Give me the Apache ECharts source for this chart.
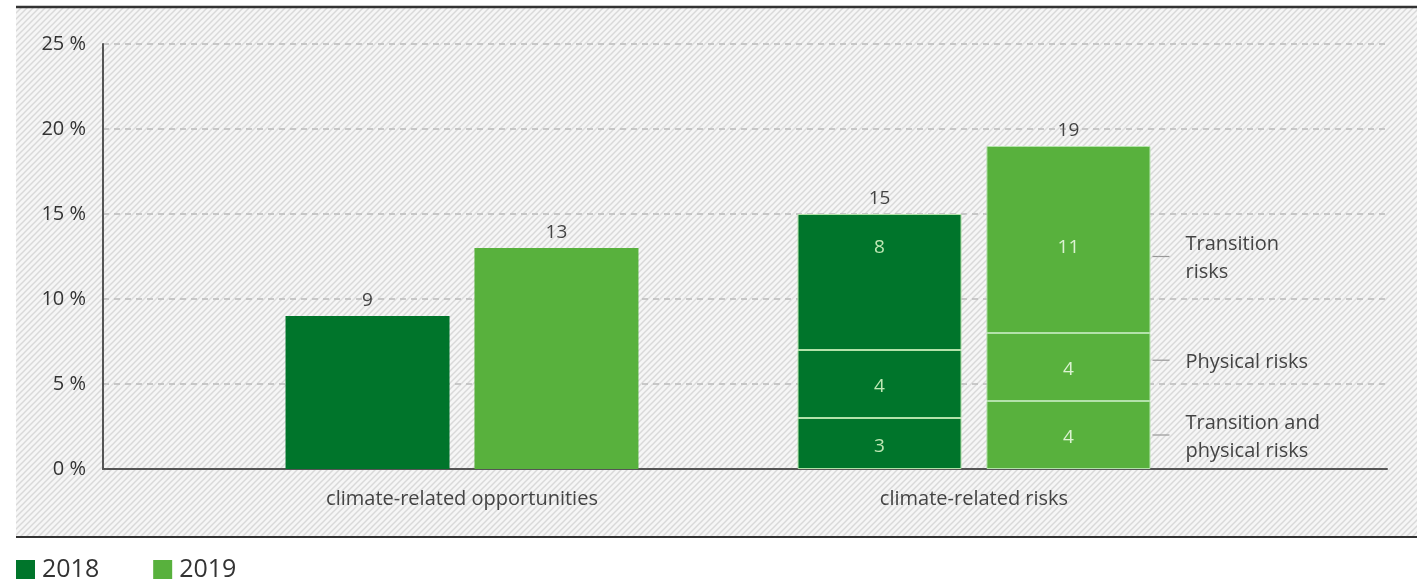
<!DOCTYPE html>
<html><head><meta charset="utf-8">
<script src="https://cdn.jsdelivr.net/npm/echarts@6/dist/echarts.min.js"></script>
<style>html,body{margin:0;padding:0;background:#fff}#c{width:1417px;height:580px}</style>
</head><body><div id="c"></div>
<script>
// ---- data ----
const categories = ['climate-related opportunities', 'climate-related risks'];
const years = ['2018', '2019'];
const opportunities = [9, 13];               // 2018, 2019
const riskTypes = ['Transition and\nphysical risks', 'Physical risks', 'Transition\nrisks']; // bottom -> top
const risks2018 = [3, 4, 8];
const risks2019 = [4, 4, 11];
const yTicks = [0, 5, 10, 15, 20, 25];
const annotationLevels = [2, 6.4, 12.5];     // value level at which each risk-type note points

// ---- styles ----
const FONT = 'Open Sans';
const DARK = '#00752b';
const LIGHT = '#58b13d';
const BAR_W = 164;
const GAP = 0.152;

const pc = document.createElement('canvas');
pc.width = 6; pc.height = 6;
const g = pc.getContext('2d');
g.fillStyle = '#f6f6f6'; g.fillRect(0, 0, 6, 6);
g.strokeStyle = '#d9d9d9'; g.lineWidth = 1.5;
g.beginPath();
g.moveTo(-1, 7); g.lineTo(7, -1);
g.moveTo(-1, 1); g.lineTo(1, -1);
g.moveTo(5, 7); g.lineTo(7, 5);
g.stroke();

function yearSeries(yi, risks, color, labelColor) {
  const name = years[yi];
  const out = [];
  out.push({
    name, type: 'bar', stack: name, xAxisIndex: 1, yAxisIndex: 1,
    barWidth: BAR_W, barGap: (GAP * 100) + '%',
    data: [opportunities[yi], null],
    itemStyle: { color }, label: { show: false }
  });
  risks.forEach((v, k) => {
    const off = k === 2 ? (yi === 0 ? [0, -34] : [0, 8]) : [0, 3];
    out.push({
      name, type: 'bar', stack: name, xAxisIndex: 1, yAxisIndex: 1,
      barWidth: BAR_W, barGap: (GAP * 100) + '%',
      data: [null, v],
      itemStyle: { color, borderColor: '#b3e2aa', borderWidth: 1 },
      label: { show: true, position: 'inside', offset: off, color: labelColor, fontSize: 19, fontFamily: FONT }
    });
  });
  const totals = [opportunities[yi], risks.reduce((a, b) => a + b, 0)];
  out.push({
    name, type: 'bar', stack: name, xAxisIndex: 1, yAxisIndex: 1,
    barWidth: BAR_W, barGap: (GAP * 100) + '%',
    data: [0, 0],
    itemStyle: { color: 'rgba(0,0,0,0)' },
    label: { show: true, position: 'top', distance: 6, color: '#444', fontSize: 19, fontFamily: FONT,
      formatter: p => String(totals[p.dataIndex]) }
  });
  return out;
}

const chart = echarts.init(document.getElementById('c'), null, { renderer: 'canvas' });
const option = {
  animation: false,
  backgroundColor: '#ffffff',
  grid: [
    { left: 103, right: 30, top: 44, bottom: 111 },
    { left: 206, right: 187, top: 44, bottom: 111 }
  ],
  xAxis: [
    { gridIndex: 0, type: 'value', min: 0, max: 1,
      axisLine: { show: true, onZero: false, lineStyle: { color: '#555', width: 2 } },
      axisTick: { show: false }, axisLabel: { show: false }, splitLine: { show: false } },
    { gridIndex: 1, type: 'category', data: categories,
      axisLine: { show: false }, axisTick: { show: false },
      axisLabel: { fontSize: 20, color: '#444', margin: 20, fontFamily: FONT } }
  ],
  yAxis: [
    { gridIndex: 0, type: 'value', min: yTicks[0], max: yTicks[yTicks.length - 1], interval: yTicks[1] - yTicks[0],
      axisLine: { show: true, lineStyle: { color: '#555', width: 2 } },
      axisTick: { show: false },
      axisLabel: { formatter: '{value} %', fontSize: 20, color: '#333', margin: 17, fontFamily: FONT },
      splitLine: { show: true, lineStyle: { color: '#bbbbbb', width: 1.5, type: [6, 5] } } },
    { gridIndex: 1, type: 'value', min: yTicks[0], max: yTicks[yTicks.length - 1], show: false }
  ],
  legend: {
    left: 16, top: 557, padding: 0, itemWidth: 19, itemHeight: 19, itemGap: 54, icon: 'rect',
    textStyle: { fontSize: 25, color: '#333', fontFamily: FONT, padding: [0, 0, 0, 2] }, data: years
  },
  series: [].concat(yearSeries(0, risks2018, DARK, '#bfe8b5'), yearSeries(1, risks2019, LIGHT, '#dcf3d2')),
  graphic: [
    { type: 'rect', left: 16, top: 7, z: -10, silent: true,
      shape: { width: 1401, height: 530 }, style: { fill: { image: pc, repeat: 'repeat' } } },
    { type: 'line', z: 10, silent: true, shape: { x1: 16, y1: 7, x2: 1417, y2: 7 }, style: { stroke: '#333', lineWidth: 2.5 } },
    { type: 'line', z: 10, silent: true, shape: { x1: 16, y1: 537, x2: 1417, y2: 537 }, style: { stroke: '#333', lineWidth: 2 } }
  ]
};
chart.setOption(option);

// annotations for risk types, anchored to the 2019 risks bar
const cx = chart.convertToPixel({ xAxisIndex: 1 }, categories[1]);
const barRight = cx + BAR_W * GAP / 2 + BAR_W;
const notes = [];
annotationLevels.forEach((lv, k) => {
  const y = chart.convertToPixel({ yAxisIndex: 1 }, lv);
  notes.push({ type: 'line', silent: true, z: 10,
    shape: { x1: barRight + 2, y1: y, x2: barRight + 19, y2: y }, style: { stroke: '#999', lineWidth: 1.2 } });
  notes.push({ type: 'text', silent: true, z: 10, x: barRight + 35, y: y + 2,
    style: { text: riskTypes[k], fontSize: 20, lineHeight: 28, fill: '#444', fontFamily: FONT, verticalAlign: 'middle', align: 'left' } });
});
chart.setOption({ graphic: option.graphic.concat(notes) });
</script>
</body></html>
